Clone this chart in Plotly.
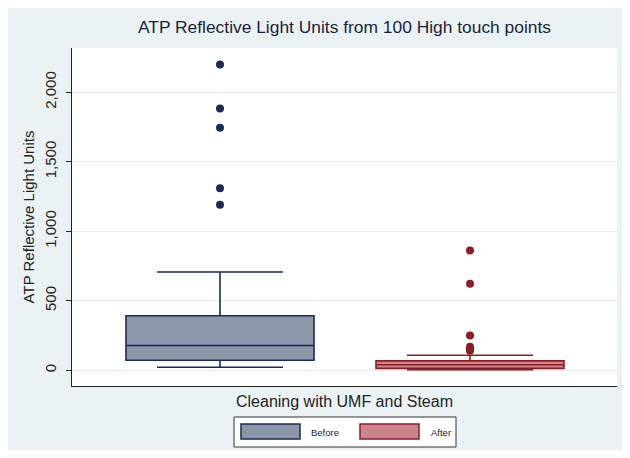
import plotly.graph_objects as go

groups = ["Before", "After"]
q1 = [72, 14]
median = [178, 40]
q3 = [392, 68]
lower_whisker = [22, 5]
upper_whisker = [707, 108]
outliers_before = [2200, 1882, 1745, 1310, 1190]
outliers_after = [862, 622, 250, 170, 155, 140]
outliers = [outliers_before, outliers_after]

fills = ["#8C97A7", "#C9858A"]
lines = ["#1B2A5C", "#8E1C24"]
positions = [1, 2]

# figure size and plot area in pixels (figure coordinates)
W, H = 614, 442
L, R, T, B = 64, 5, 40, 64
PW, PH = W - L - R, H - T - B


def px(x):
    return (x - L) / PW


def py(y):
    return (H - B - y) / PH


fig = go.Figure()
for i, g in enumerate(groups):
    fig.add_trace(go.Box(
        name=g, x=[positions[i]], q1=[q1[i]], median=[median[i]], q3=[q3[i]],
        lowerfence=[lower_whisker[i]], upperfence=[upper_whisker[i]],
        fillcolor=fills[i], line=dict(color=lines[i], width=1.6),
        width=0.752, whiskerwidth=0.67, boxpoints=False,
        hoverinfo="y", showlegend=False,
    ))
    fig.add_trace(go.Scatter(
        x=[positions[i]] * len(outliers[i]), y=outliers[i], mode="markers",
        marker=dict(color=lines[i], size=8), showlegend=False,
    ))

shapes = [
    # legend frame
    dict(type="rect", xref="paper", yref="paper",
         x0=px(226), x1=px(448), y0=py(439), y1=py(409),
         fillcolor="white", line=dict(color="#333333", width=1)),
]
annotations = []
swatch_x = [(233, 292), (352, 411)]
label_x = [301, 421]
for i, g in enumerate(groups):
    shapes.append(dict(type="rect", xref="paper", yref="paper",
                       x0=px(swatch_x[i][0]), x1=px(swatch_x[i][1]),
                       y0=py(431), y1=py(416),
                       fillcolor=fills[i], line=dict(color=lines[i], width=1.5)))
    annotations.append(dict(text=g, xref="paper", yref="paper",
                            x=px(label_x[i]), y=py(424), xanchor="left", yanchor="middle",
                            showarrow=False, font=dict(size=9.5, color="#222222")))

fig.update_layout(
    width=W, height=H,
    margin=dict(l=L, r=R, t=T, b=B),
    paper_bgcolor="#EAF2F3", plot_bgcolor="white",
    font=dict(family="Liberation Sans, Arial, sans-serif", color="#222222"),
    title=dict(text="ATP Reflective Light Units from 100 High touch points",
               x=0.5, xref="paper", xanchor="center",
               y=1 - 19 / H, yanchor="middle",
               font=dict(size=17.4, color="#1C1F3A")),
    xaxis=dict(range=[0.408, 2.588], showticklabels=False, ticks="",
               showgrid=False, zeroline=False, showline=True,
               linecolor="#222222", linewidth=1, automargin=False,
               title=dict(text="Cleaning with UMF and Steam",
                          font=dict(size=16, color="#222222"), standoff=9)),
    yaxis=dict(range=[-113, 2318], tickvals=[0, 500, 1000, 1500, 2000],
               tickformat=",", tickangle=-90, ticks="outside", ticklen=5,
               tickcolor="#222222", tickfont=dict(size=15, color="#222222"),
               ticklabelstandoff=4,
               showgrid=True, gridcolor="#E4EEEE", gridwidth=1,
               zeroline=False, showline=True, linecolor="#222222", linewidth=1,
               automargin=False,
               title=dict(text="ATP Reflective Light Units",
                          font=dict(size=15, color="#222222"), standoff=3)),
    shapes=shapes,
    annotations=annotations,
    showlegend=False,
)

fig.write_html("out.html")
